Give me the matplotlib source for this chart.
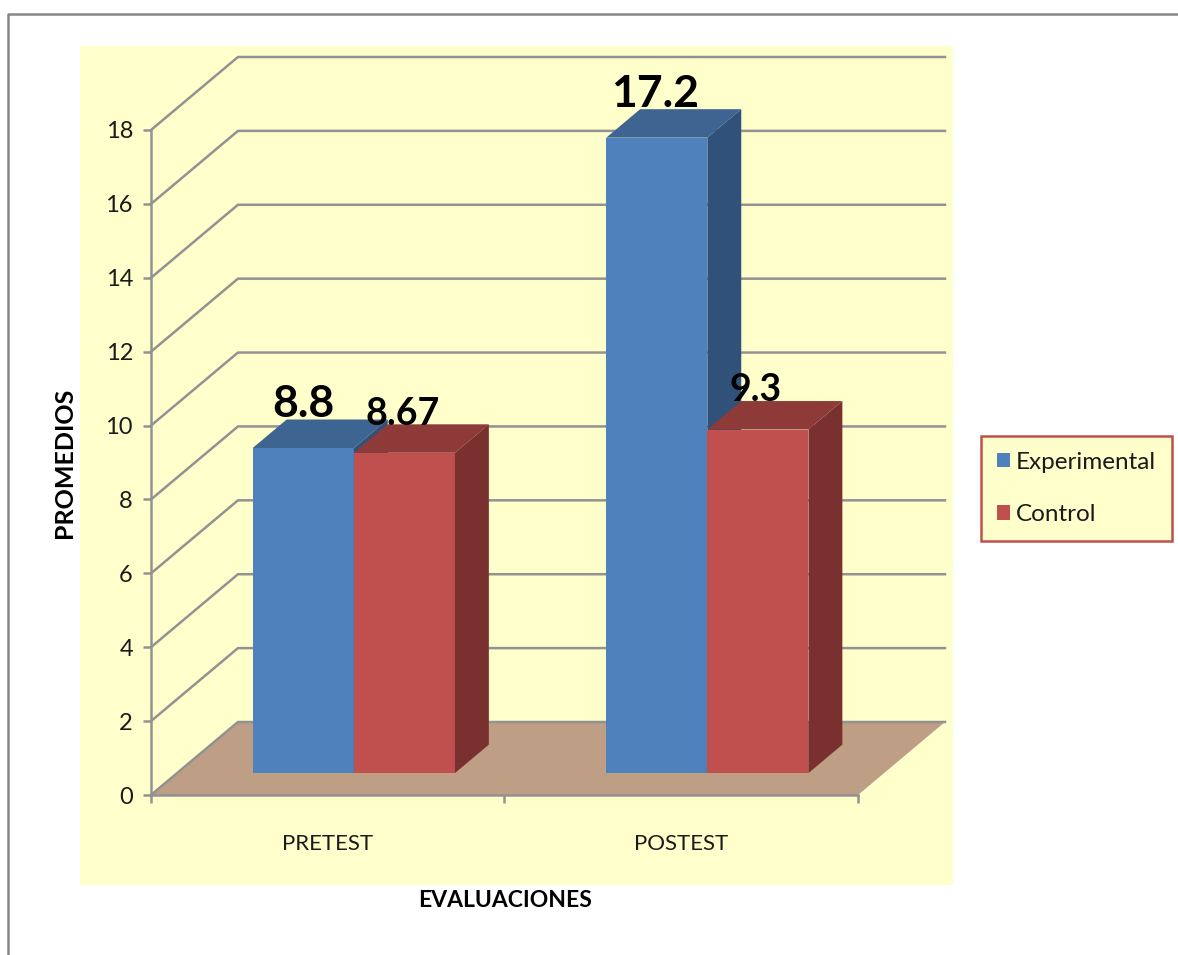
import matplotlib

matplotlib.use("Agg")
import matplotlib.pyplot as plt
from matplotlib.lines import Line2D
from matplotlib.patches import Patch, Polygon, Rectangle

categories = ["PRETEST", "POSTEST"]
series_names = ["Experimental", "Control"]
experimental = [8.8, 17.2]
control = [8.67, 9.3]
y_ticks = [0, 2, 4, 6, 8, 10, 12, 14, 16, 18]

W, H = 1178, 955
plt.rcParams["font.family"] = ["Lato", "DejaVu Sans"]

# colours: front, top, side
BLUE = ("#4F81BD", "#3E6491", "#30517A")
RED = ("#C0504D", "#8E3A39", "#7A302F")
GRID = "#929292"
YELLOW = "#FFFFCC"
FLOOR = "#BE9F86"

# 3D look: wall depth in data units, bars sit between 30% and 69% of it
DEPTH_X = 0.246
DEPTH_Y = 1.976
BAR_W = 0.286
FRONT, BACK = 0.30, 0.69


def fx(px):
    return px / W


def fy(px):
    return 1 - px / H


fig = plt.figure(figsize=(W / 100, H / 100), dpi=100, facecolor="white")

# page frame and yellow chart area
fig.add_artist(Line2D([fx(8), fx(8), fx(1178)], [fy(955), fy(14), fy(14)], color="#868686", lw=1.8))
fig.add_artist(Rectangle((fx(80), fy(885)), fx(873), 839 / H, color=YELLOW, lw=0, zorder=-1))

ax = fig.add_axes([fx(151), fy(795), fx(707), 665 / H])
ax.set_xlim(0, 2)
ax.set_ylim(0, 18)
ax.patch.set_alpha(0)

# floor + walls
ax.add_patch(Polygon([(0, 0), (2, 0), (2 + DEPTH_X, DEPTH_Y), (DEPTH_X, DEPTH_Y)],
                     facecolor=FLOOR, edgecolor="none", clip_on=False, zorder=1))
for v in y_ticks:
    ax.plot([0, DEPTH_X, 2 + DEPTH_X], [v, v + DEPTH_Y, v + DEPTH_Y],
            color=GRID, lw=1.8, clip_on=False, zorder=2, solid_joinstyle="miter")


def draw_bar(left, value, colors):
    x0 = left + FRONT * DEPTH_X
    x1 = x0 + BAR_W
    base = FRONT * DEPTH_Y
    dx = (BACK - FRONT) * DEPTH_X
    dy = (BACK - FRONT) * DEPTH_Y
    ax.bar(x0, value, BAR_W, bottom=base, align="edge", color=colors[0], zorder=3, clip_on=False)
    top = base + value
    ax.add_patch(Polygon([(x0, top), (x1, top), (x1 + dx, top + dy), (x0 + dx, top + dy)],
                         facecolor=colors[1], edgecolor="none", clip_on=False, zorder=3))
    ax.add_patch(Polygon([(x1, base), (x1 + dx, base + dy), (x1 + dx, top + dy), (x1, top)],
                         facecolor=colors[2], edgecolor="none", clip_on=False, zorder=3))
    return x0 + BAR_W / 2, top


# value label sizes and pixel offsets from the front top edge of each bar
label_style = {
    (0, 0): (32, 0, 44),
    (0, 1): (27, -2, 39),
    (1, 0): (32, -2, 44),
    (1, 1): (27, -2, 40),
}
for i, cat in enumerate(categories):
    c = i + 0.5
    cx, top = draw_bar(c - BAR_W, experimental[i], BLUE)
    fs, ox, oy = label_style[(i, 0)]
    ax.annotate(str(experimental[i]), (cx, top), xytext=(ox * 0.72, oy * 0.72), textcoords="offset points",
                ha="center", va="center", fontsize=fs, fontweight="bold", color="black", zorder=5,
                annotation_clip=False)
    cx, top = draw_bar(c, control[i], RED)
    fs, ox, oy = label_style[(i, 1)]
    ax.annotate(str(control[i]), (cx, top), xytext=(ox * 0.72, oy * 0.72), textcoords="offset points",
                ha="center", va="center", fontsize=fs, fontweight="bold", color="black", zorder=5,
                annotation_clip=False)

for s in ["top", "right"]:
    ax.spines[s].set_visible(False)
for s in ["left", "bottom"]:
    ax.spines[s].set_color(GRID)
    ax.spines[s].set_linewidth(1.8)
    ax.spines[s].set_zorder(4)

ax.set_yticks(y_ticks)
ax.tick_params(axis="y", length=6, width=1.8, color=GRID, labelsize=17, pad=7, labelcolor="#1a1a1a")
ax.set_xticks([0, 1, 2], minor=True)
ax.set_xticks([i + 0.5 for i in range(len(categories))], categories)
ax.tick_params(axis="x", which="major", length=0, labelsize=16, pad=28, labelcolor="#1a1a1a")
ax.tick_params(axis="x", which="minor", length=6, width=1.8, color=GRID)

fig.text(fx(505), fy(900), "EVALUACIONES", ha="center", va="center", fontsize=16.5, fontweight="bold", color="black")
fig.text(fx(64), fy(463), "PROMEDIOS", ha="center", va="center", rotation=90, fontsize=18,
         fontweight="bold", color="black")

handles = [Patch(facecolor=BLUE[0], edgecolor="none"), Patch(facecolor=RED[0], edgecolor="none")]
leg = fig.legend(handles, series_names, loc="center left", bbox_to_anchor=(fx(981), fy(488.5)),
                 fontsize=17.5, frameon=True, fancybox=False, framealpha=1, facecolor=YELLOW,
                 edgecolor="#C0504D", labelspacing=1.3, borderpad=0.66, borderaxespad=0,
                 handlelength=0.535, handleheight=0.535, handletextpad=0.25, labelcolor="#1a1a1a")
leg.get_frame().set_linewidth(1.8)

fig.savefig("out.png", dpi=100)
